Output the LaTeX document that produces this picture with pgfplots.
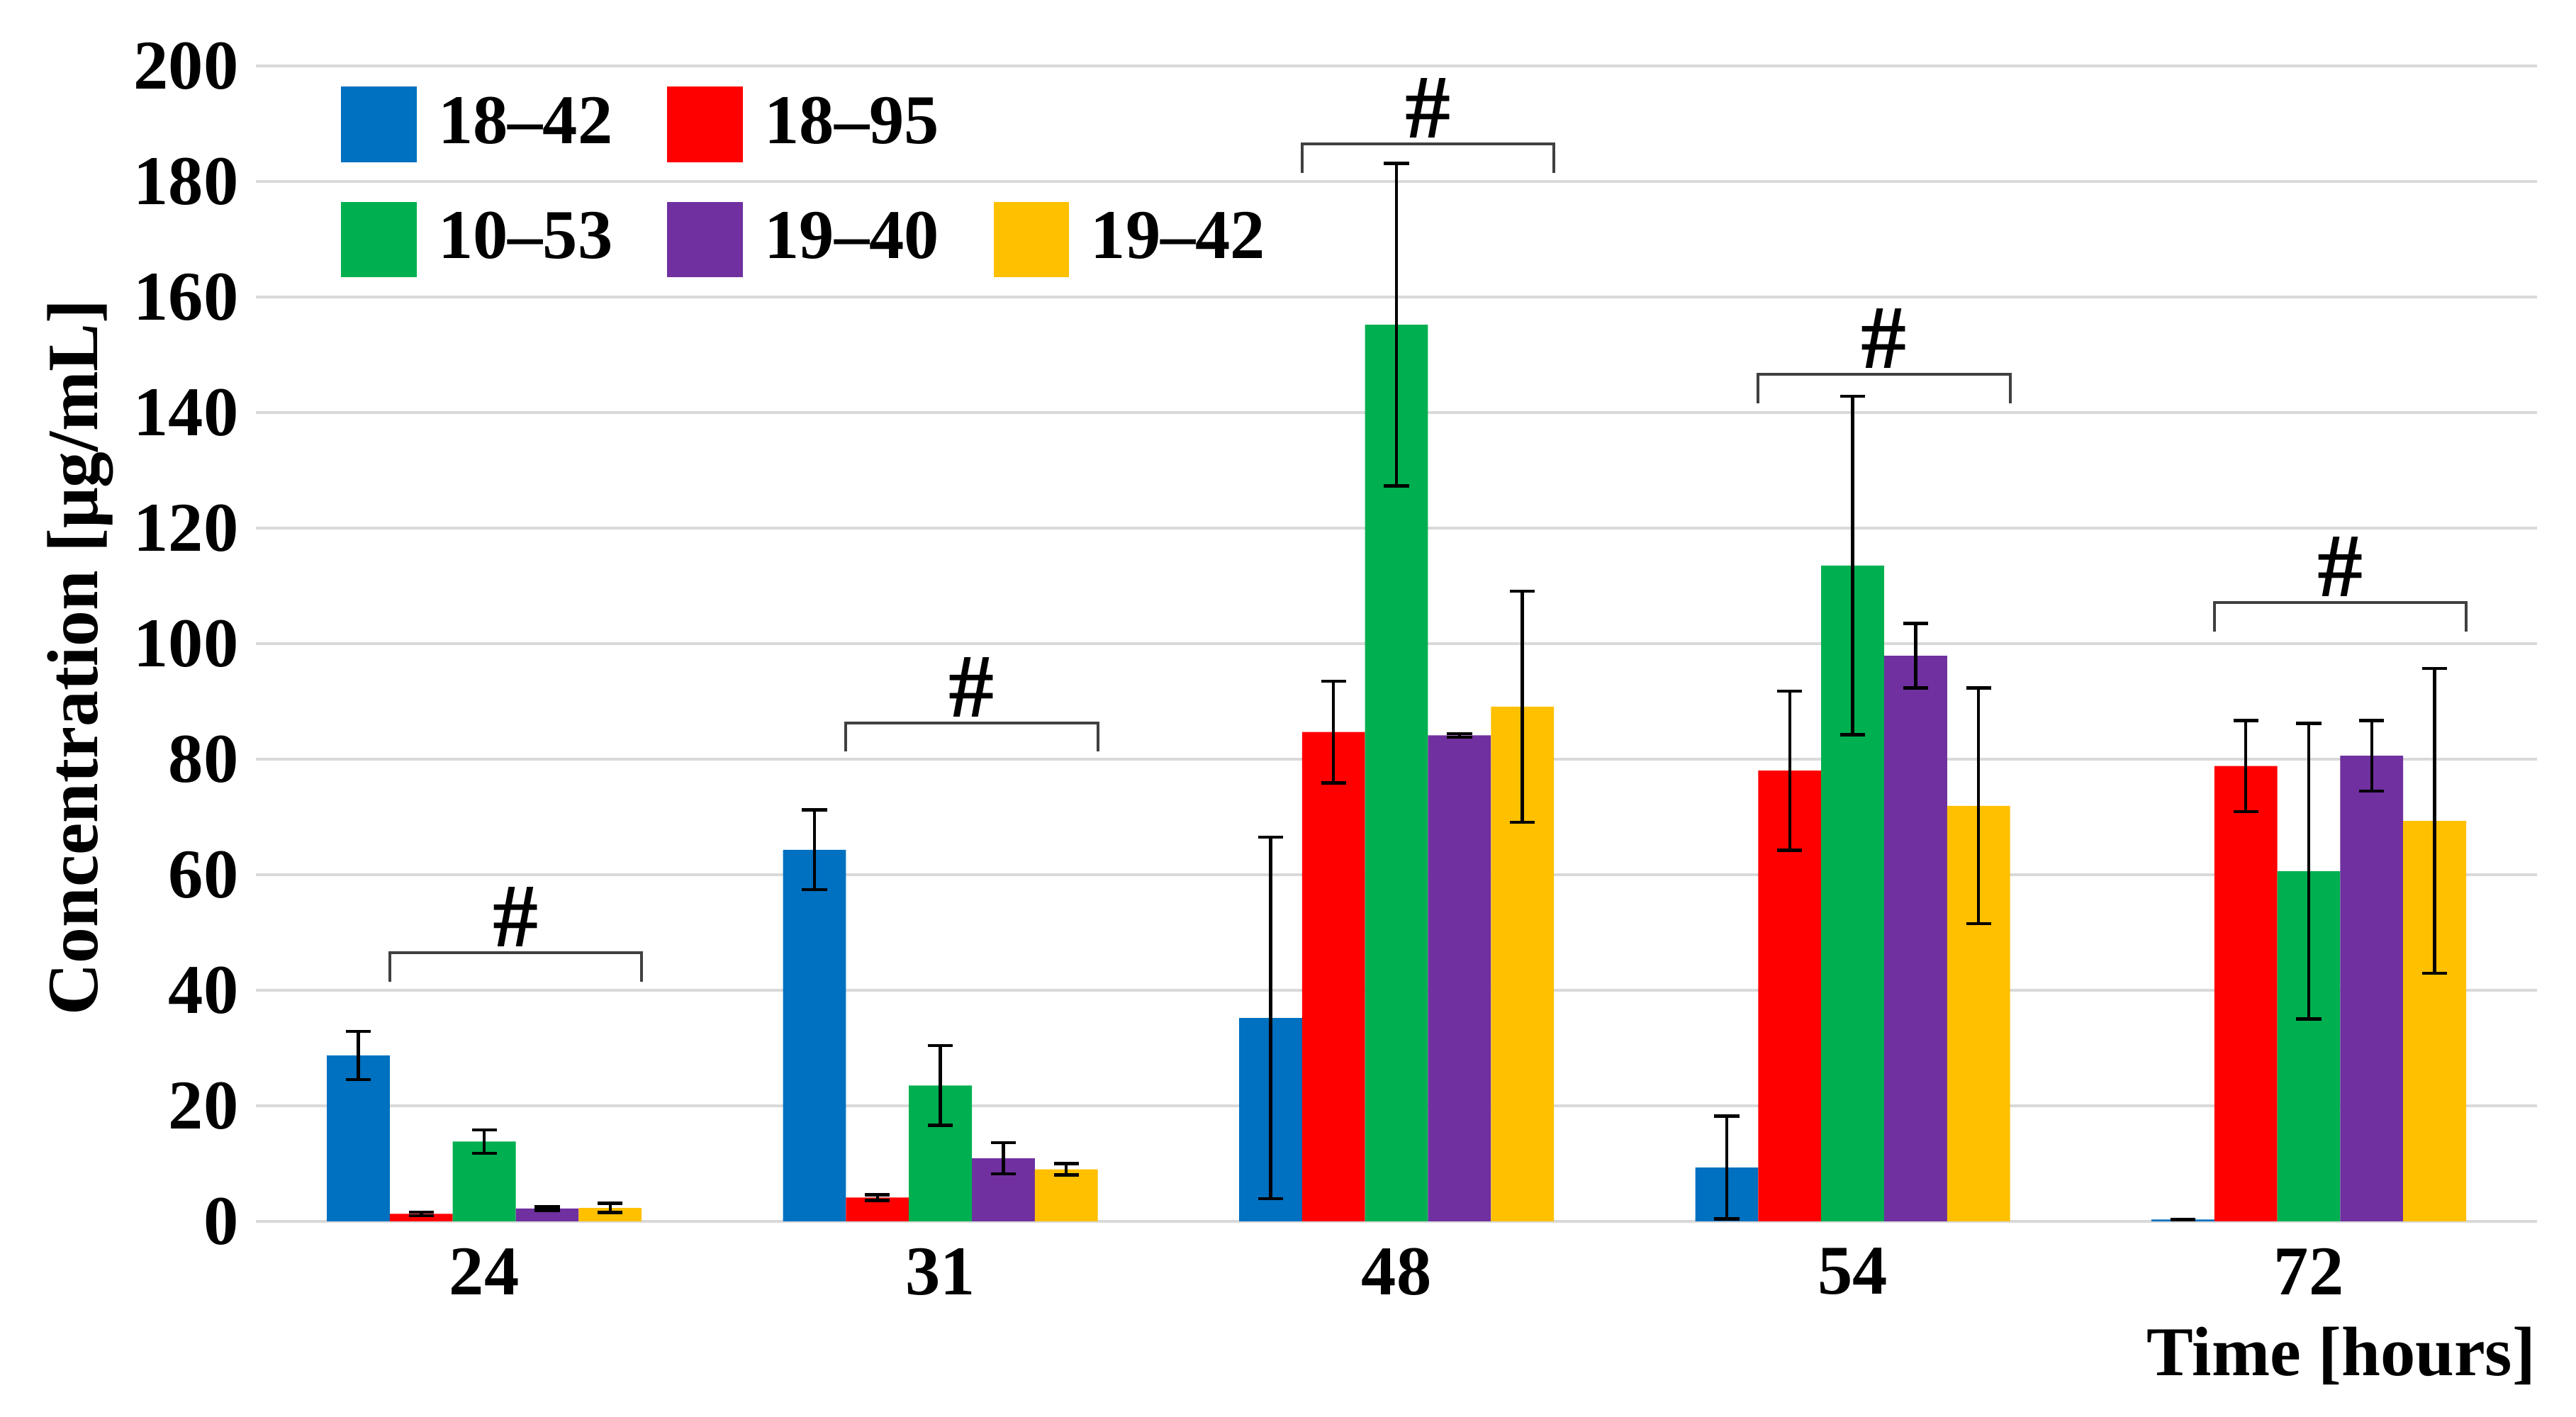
\documentclass[border=0pt]{standalone}
\usepackage{fontspec}
\setmainfont{Liberation Serif}
\usepackage{pgfplots}
\pgfplotsset{compat=1.18}

\definecolor{cblue}{HTML}{0070C0}
\definecolor{cred}{HTML}{FF0000}
\definecolor{cgreen}{HTML}{00B050}
\definecolor{cpurple}{HTML}{7030A0}
\definecolor{cyellow}{HTML}{FFC000}
\definecolor{gridgray}{HTML}{D9D9D9}
\definecolor{brackgray}{HTML}{404040}

\begin{document}
\begin{tikzpicture}[font=\fontsize{12.3}{14.5}\selectfont\bfseries]
\begin{axis}[
    width=401.5pt, height=203.4pt, scale only axis,
    xmin=-0.5, xmax=4.5, ymin=0, ymax=200,
    ybar=0pt, bar width=0.138,
    xtick={0,1,2,3,4}, xticklabels={24,31,48,54,72},
    ytick={0,20,...,200},
    ymajorgrids, major grid style={draw=gridgray, line width=0.45pt},
    axis line style={draw=none},
    tick style={draw=none},
    /pgf/number format/assume math mode=true,
    yticklabel style={inner sep=0pt, xshift=-2.9pt},
    xticklabel style={inner sep=0pt, yshift=-0.3pt},
    ylabel={Concentration [μg/mL]},
    ylabel style={at={(axis description cs:-0.092,0.488)}, anchor=north, inner sep=0pt, font=\fontsize{12.7}{14.5}\selectfont\bfseries},
    xlabel={Time [hours]},
    xlabel style={at={(axis description cs:1,0)}, anchor=north east, inner sep=0pt, yshift=-18.4pt},
    error bars/y dir=both, error bars/y explicit,
    error bars/error bar style={line width=0.55pt, black},
    error bars/error mark options={rotate=90, mark size=2.2pt, line width=0.55pt, black},
    legend columns=3,
    legend style={draw=none, fill=none, inner sep=0pt,
        at={(axis description cs:0.0367,0.983)}, anchor=north west,
        row sep=6.95pt, nodes={inner sep=0pt, anchor=west},
        /tikz/every odd column/.append style={column sep=3.8pt},
        /tikz/every even column/.append style={column sep=9.6pt}},
    legend image code/.code={\fill[#1] (0pt,-6.65pt) rectangle (13.3pt,6.65pt);},
    clip=false,
]
\addplot[fill=cblue, draw=none, bar shift=-0.276] coordinates {
    (0,28.7) +- (0,4.2) (1,64.3) +- (0,6.9) (2,35.2) +- (0,31.3) (3,9.3) +- (0,8.9) (4,0.3) +- (0,0)};
\addlegendentry{18–42}
\addplot[fill=cred, draw=none, bar shift=-0.138] coordinates {
    (0,1.3) +- (0,0.3) (1,4.1) +- (0,0.5) (2,84.7) +- (0,8.8) (3,78.0) +- (0,13.8) (4,78.8) +- (0,7.9)};
\addlegendentry{18–95}
\addlegendimage{empty legend}
\addlegendentry{}
\addplot[fill=cgreen, draw=none, bar shift=0] coordinates {
    (0,13.8) +- (0,2.0) (1,23.5) +- (0,6.9) (2,155.2) +- (0,27.9) (3,113.5) +- (0,29.3) (4,60.6) +- (0,25.6)};
\addlegendentry{10–53}
\addplot[fill=cpurple, draw=none, bar shift=0.138] coordinates {
    (0,2.2) +- (0,0.3) (1,10.9) +- (0,2.7) (2,84.1) +- (0,0.3) (3,97.9) +- (0,5.6) (4,80.6) +- (0,6.1)};
\addlegendentry{19–40}
\addplot[fill=cyellow, draw=none, bar shift=0.276] coordinates {
    (0,2.3) +- (0,0.8) (1,9.0) +- (0,1.0) (2,89.1) +- (0,20.0) (3,71.9) +- (0,20.4) (4,69.3) +- (0,26.4)};
\addlegendentry{19–42}

% significance brackets
\draw[brackgray, line width=0.5pt] (axis cs:-0.207,41.5) |- (axis cs:0.345,46.5) -- (axis cs:0.345,41.5);
\draw[brackgray, line width=0.5pt] (axis cs:0.793,81.3) |- (axis cs:1.345,86.3) -- (axis cs:1.345,81.3);
\draw[brackgray, line width=0.5pt] (axis cs:1.793,181.5) |- (axis cs:2.345,186.5) -- (axis cs:2.345,181.5);
\draw[brackgray, line width=0.5pt] (axis cs:2.793,141.6) |- (axis cs:3.345,146.6) -- (axis cs:3.345,141.6);
\draw[brackgray, line width=0.5pt] (axis cs:3.793,102.1) |- (axis cs:4.345,107.1) -- (axis cs:4.345,102.1);
\node[anchor=base, font=\fontsize{16}{16}\selectfont\bfseries] at (axis cs:0.069,47.5) {\#};
\node[anchor=base, font=\fontsize{16}{16}\selectfont\bfseries] at (axis cs:1.069,87.3) {\#};
\node[anchor=base, font=\fontsize{16}{16}\selectfont\bfseries] at (axis cs:2.069,187.5) {\#};
\node[anchor=base, font=\fontsize{16}{16}\selectfont\bfseries] at (axis cs:3.069,147.6) {\#};
\node[anchor=base, font=\fontsize{16}{16}\selectfont\bfseries] at (axis cs:4.069,108.1) {\#};
\end{axis}
\path ([xshift=-45.1pt,yshift=-34.4pt]current axis.south west) rectangle ([xshift=6.9pt,yshift=11.6pt]current axis.north east);
\end{tikzpicture}
\end{document}
